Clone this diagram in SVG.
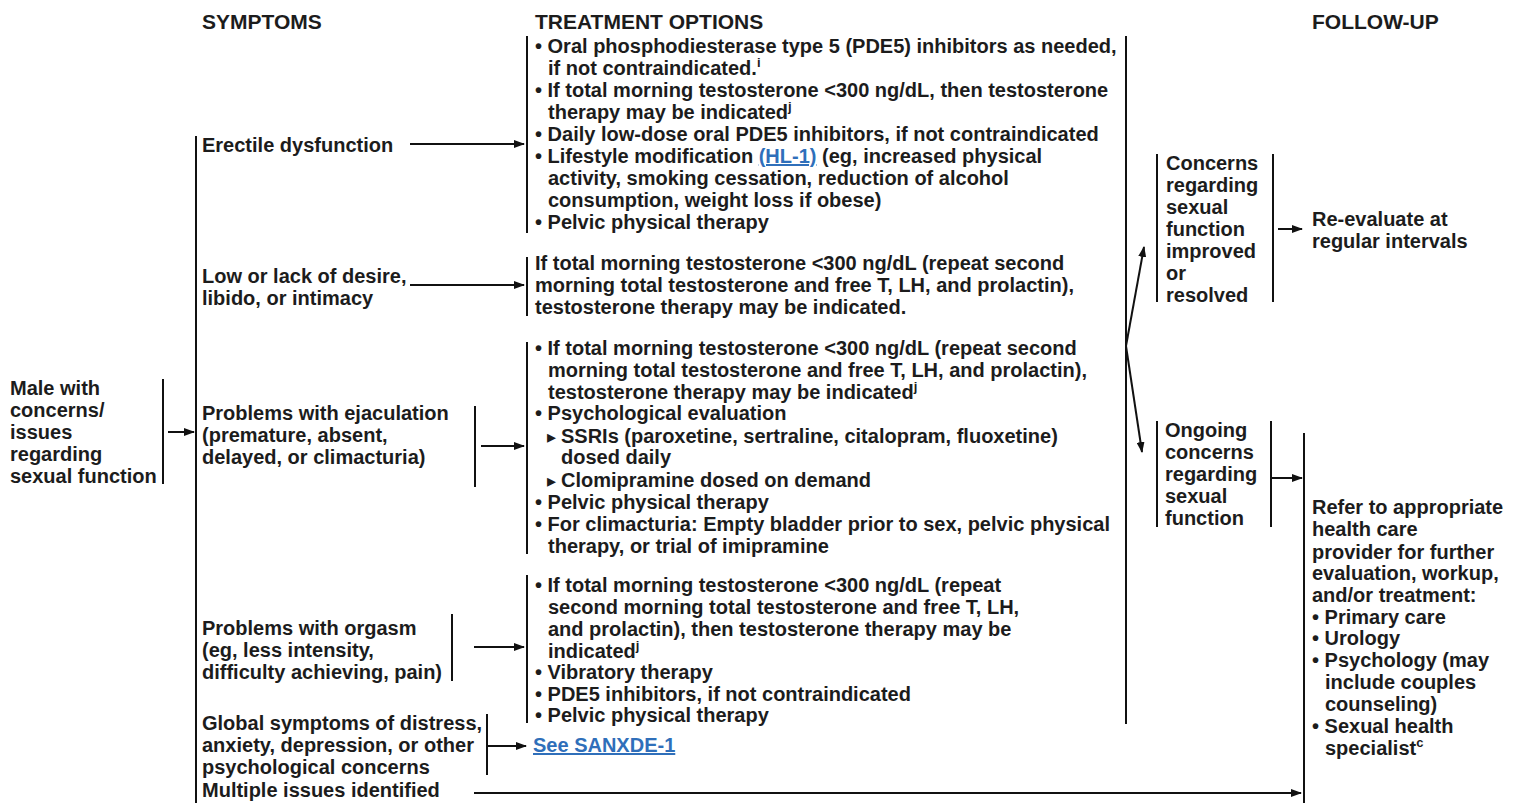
<svg xmlns="http://www.w3.org/2000/svg" width="1523" height="803" viewBox="0 0 1523 803">
<defs>
<style>
.t{font-family:"Liberation Sans",Arial,Helvetica,sans-serif;font-weight:bold;font-size:20px;fill:#1c1c1c}
.h{font-size:21px}
.sup{font-size:13px}
.tri{font-family:"DejaVu Sans",sans-serif;font-size:18px}
.link{fill:#2f6fba;text-decoration:underline}
.bar{stroke:#111;stroke-width:2;fill:none}
.c{stroke:#111;stroke-width:2;fill:none}
</style>
<marker id="ah" markerWidth="11" markerHeight="8" refX="10" refY="4" orient="auto" markerUnits="userSpaceOnUse">
<path d="M0,0 L11,4 L0,8 Z" fill="#111"/>
</marker>
</defs>
<rect width="1523" height="803" fill="#ffffff"/>

<g id="headers" class="t h">
<text x="202" y="29">SYMPTOMS</text>
<text x="535" y="29">TREATMENT OPTIONS</text>
<text x="1312" y="29">FOLLOW-UP</text>
</g>

<g id="n-male">
<text class="t" x="10" y="395">Male with</text>
<text class="t" x="10" y="417">concerns/</text>
<text class="t" x="10" y="439">issues</text>
<text class="t" x="10" y="461">regarding</text>
<text class="t" x="10" y="483">sexual function</text>
<line class="bar" x1="163" y1="379" x2="163" y2="484"/>
</g>

<g id="n-symptoms">
<line class="bar" x1="196" y1="136" x2="196" y2="803"/>
</g>

<g id="n-erectile">
<text class="t" x="202" y="152">Erectile dysfunction</text>
</g>

<g id="n-desire">
<text class="t" x="202" y="283">Low or lack of desire,</text>
<text class="t" x="202" y="305">libido, or intimacy</text>
</g>

<g id="n-ejaculation">
<text class="t" x="202" y="420">Problems with ejaculation</text>
<text class="t" x="202" y="442">(premature, absent,</text>
<text class="t" x="202" y="464">delayed, or climacturia)</text>
<line class="bar" x1="475" y1="406" x2="475" y2="487"/>
</g>

<g id="n-orgasm">
<text class="t" x="202" y="635">Problems with orgasm</text>
<text class="t" x="202" y="657">(eg, less intensity,</text>
<text class="t" x="202" y="679">difficulty achieving, pain)</text>
<line class="bar" x1="452" y1="614" x2="452" y2="681"/>
</g>

<g id="n-global">
<text class="t" x="202" y="730">Global symptoms of distress,</text>
<text class="t" x="202" y="752">anxiety, depression, or other</text>
<text class="t" x="202" y="774">psychological concerns</text>
<line class="bar" x1="487" y1="714" x2="487" y2="775"/>
</g>

<g id="n-multiple">
<text class="t" x="202" y="797">Multiple issues identified</text>
</g>

<g id="n-tx-ed">
<line class="bar" x1="527" y1="36" x2="527" y2="233"/>
<text class="t" x="535" y="53">• Oral phosphodiesterase type 5 (PDE5) inhibitors as needed,</text>
<text class="t" x="548" y="75">if not contraindicated.<tspan class="sup" dy="-8">i</tspan></text>
<text class="t" x="535" y="97">• If total morning testosterone &lt;300 ng/dL, then testosterone</text>
<text class="t" x="548" y="119">therapy may be indicated<tspan class="sup" dy="-8">j</tspan></text>
<text class="t" x="535" y="141">• Daily low-dose oral PDE5 inhibitors, if not contraindicated</text>
<text class="t" x="535" y="163">• Lifestyle modification <tspan class="link">(HL-1)</tspan> (eg, increased physical</text>
<text class="t" x="548" y="185">activity, smoking cessation, reduction of alcohol</text>
<text class="t" x="548" y="207">consumption, weight loss if obese)</text>
<text class="t" x="535" y="229">• Pelvic physical therapy</text>
</g>

<g id="n-tx-desire">
<line class="bar" x1="527" y1="257" x2="527" y2="316"/>
<text class="t" x="535" y="270">If total morning testosterone &lt;300 ng/dL (repeat second</text>
<text class="t" x="535" y="292">morning total testosterone and free T, LH, and prolactin),</text>
<text class="t" x="535" y="314">testosterone therapy may be indicated.</text>
</g>

<g id="n-tx-ejac">
<line class="bar" x1="527" y1="342" x2="527" y2="554"/>
<text class="t" x="535" y="355">• If total morning testosterone &lt;300 ng/dL (repeat second</text>
<text class="t" x="548" y="377">morning total testosterone and free T, LH, and prolactin),</text>
<text class="t" x="548" y="399">testosterone therapy may be indicated<tspan class="sup" dy="-8">j</tspan></text>
<text class="t" x="535" y="420">• Psychological evaluation</text>
<text class="t" x="547" y="443"><tspan class="tri">▸</tspan><tspan x="561">SSRIs (paroxetine, sertraline, citalopram, fluoxetine)</tspan></text>
<text class="t" x="561" y="464">dosed daily</text>
<text class="t" x="547" y="487"><tspan class="tri">▸</tspan><tspan x="561">Clomipramine dosed on demand</tspan></text>
<text class="t" x="535" y="509">• Pelvic physical therapy</text>
<text class="t" x="535" y="531">• For climacturia: Empty bladder prior to sex, pelvic physical</text>
<text class="t" x="548" y="553">therapy, or trial of imipramine</text>
</g>

<g id="n-tx-orgasm">
<line class="bar" x1="527" y1="575" x2="527" y2="723"/>
<text class="t" x="535" y="592">• If total morning testosterone &lt;300 ng/dL (repeat</text>
<text class="t" x="548" y="614">second morning total testosterone and free T, LH,</text>
<text class="t" x="548" y="636">and prolactin), then testosterone therapy may be</text>
<text class="t" x="548" y="658">indicated<tspan class="sup" dy="-8">j</tspan></text>
<text class="t" x="535" y="679">• Vibratory therapy</text>
<text class="t" x="535" y="701">• PDE5 inhibitors, if not contraindicated</text>
<text class="t" x="535" y="722">• Pelvic physical therapy</text>
</g>

<g id="n-tx-global">
<text class="t link" x="533" y="752">See SANXDE-1</text>
</g>

<g id="n-tx-collect">
<line class="bar" x1="1126" y1="36" x2="1126" y2="724"/>
</g>

<g id="n-improved">
<line class="bar" x1="1157" y1="154" x2="1157" y2="302"/>
<line class="bar" x1="1273" y1="154" x2="1273" y2="302"/>
<text class="t" x="1166" y="170">Concerns</text>
<text class="t" x="1166" y="192">regarding</text>
<text class="t" x="1166" y="214">sexual</text>
<text class="t" x="1166" y="236">function</text>
<text class="t" x="1166" y="258">improved</text>
<text class="t" x="1166" y="280">or</text>
<text class="t" x="1166" y="302">resolved</text>
</g>

<g id="n-reevaluate">
<text class="t" x="1312" y="226">Re-evaluate at</text>
<text class="t" x="1312" y="248">regular intervals</text>
</g>

<g id="n-ongoing">
<line class="bar" x1="1157" y1="421" x2="1157" y2="527"/>
<line class="bar" x1="1271" y1="421" x2="1271" y2="527"/>
<text class="t" x="1165" y="437">Ongoing</text>
<text class="t" x="1165" y="459">concerns</text>
<text class="t" x="1165" y="481">regarding</text>
<text class="t" x="1165" y="503">sexual</text>
<text class="t" x="1165" y="525">function</text>
</g>

<g id="n-refer">
<line class="bar" x1="1304" y1="433" x2="1304" y2="803"/>
<text class="t" x="1312" y="514">Refer to appropriate</text>
<text class="t" x="1312" y="536">health care</text>
<text class="t" x="1312" y="559">provider for further</text>
<text class="t" x="1312" y="580">evaluation, workup,</text>
<text class="t" x="1312" y="602">and/or treatment:</text>
<text class="t" x="1312" y="624">• Primary care</text>
<text class="t" x="1312" y="645">• Urology</text>
<text class="t" x="1312" y="667">• Psychology (may</text>
<text class="t" x="1325" y="689">include couples</text>
<text class="t" x="1325" y="711">counseling)</text>
<text class="t" x="1312" y="733">• Sexual health</text>
<text class="t" x="1325" y="755">specialist<tspan class="sup" dy="-8">c</tspan></text>
</g>

<g id="connectors">
<line class="c" x1="168" y1="432" x2="194" y2="432" marker-end="url(#ah)"/>
<line class="c" x1="410" y1="144" x2="524" y2="144" marker-end="url(#ah)"/>
<line class="c" x1="410" y1="285" x2="524" y2="285" marker-end="url(#ah)"/>
<line class="c" x1="481" y1="446" x2="524" y2="446" marker-end="url(#ah)"/>
<line class="c" x1="474" y1="647" x2="524" y2="647" marker-end="url(#ah)"/>
<line class="c" x1="487" y1="746" x2="526" y2="746" marker-end="url(#ah)"/>
<line class="c" x1="474" y1="793" x2="1301" y2="793" marker-end="url(#ah)"/>
<line class="c" x1="1126" y1="346" x2="1144" y2="247" marker-end="url(#ah)"/>
<line class="c" x1="1126" y1="346" x2="1142" y2="452" marker-end="url(#ah)"/>
<line class="c" x1="1278" y1="229" x2="1302" y2="229" marker-end="url(#ah)"/>
<line class="c" x1="1271" y1="478" x2="1302" y2="478" marker-end="url(#ah)"/>
</g>
</svg>
